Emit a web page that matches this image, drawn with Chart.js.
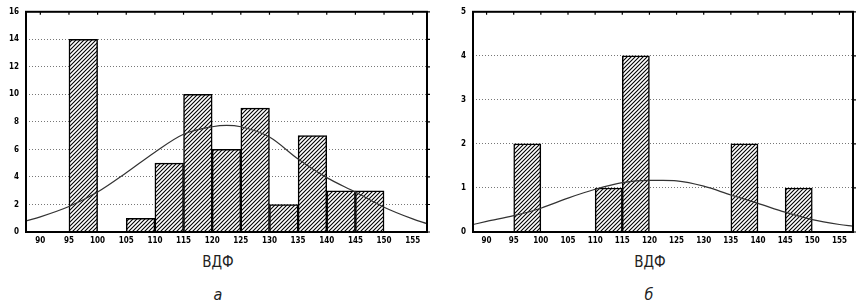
<!DOCTYPE html>
<html>
<head>
<meta charset="utf-8">
<script src="https://cdn.jsdelivr.net/npm/chart.js@4/dist/chart.umd.min.js"></script>
<style>
  body { margin: 0; background: #fff; width: 861px; height: 306px; overflow: hidden; position: relative;
         font-family: 'Liberation Sans Narrow', 'DejaVu Sans Condensed', 'Liberation Sans', sans-serif; }
  .box { position: absolute; top: 0; height: 250px; }
  .lbl { position: absolute; font-size: 15px; transform: translateX(-50%); color: #222; }
  .sub { font-style: italic; font-size: 16px; top: 285px; }
</style>
</head>
<body>
<div class="box" style="left:0;width:440px"><canvas id="chartA"></canvas></div>
<div class="box" style="left:440px;width:421px"><canvas id="chartB"></canvas></div>
<div class="lbl" style="left:218px;top:253px">ВДФ</div>
<div class="lbl" style="left:650px;top:253px">ВДФ</div>
<div class="lbl sub" style="left:218px">а</div>
<div class="lbl sub" style="left:649px">б</div>
<script>
// histogram bins (lower edges, width 5)
const binStarts = [95, 100, 105, 110, 115, 120, 125, 130, 135, 140, 145];
const countsA = [14, 0, 1, 5, 10, 6, 9, 2, 7, 3, 3];
const countsB = [2, 0, 0, 1, 4, 0, 0, 0, 2, 0, 1];

// fitted normal curve
const curveX = [87.5, 90, 95, 100, 105, 110, 115, 120, 122.5, 125, 130, 135, 140, 145, 150, 155, 157.5];
const curveA = [0.8, 1.1, 1.85, 2.9, 4.3, 5.8, 7.1, 7.65, 7.75, 7.65, 6.9, 5.3, 3.95, 2.9, 1.8, 0.95, 0.6];
const curveB = [0.17, 0.24, 0.37, 0.54, 0.77, 0.97, 1.12, 1.17, 1.17, 1.16, 1.04, 0.84, 0.65, 0.45, 0.28, 0.17, 0.13];

const xTicks = [90, 95, 100, 105, 110, 115, 120, 125, 130, 135, 140, 145, 150, 155];
const yTicksA = [0, 2, 4, 6, 8, 10, 12, 14, 16];
const yTicksB = [0, 1, 2, 3, 4, 5];

function hatch() {
  const c = document.createElement('canvas');
  c.width = 4; c.height = 4;
  const g = c.getContext('2d');
  g.fillStyle = '#fff';
  g.fillRect(0, 0, 4, 4);
  g.strokeStyle = '#000';
  g.lineWidth = 1.1;
  g.beginPath();
  g.moveTo(0, 4); g.lineTo(4, 0);
  g.moveTo(-1, 1); g.lineTo(1, -1);
  g.moveTo(3, 5); g.lineTo(5, 3);
  g.stroke();
  return g.createPattern(c, 'repeat');
}

// frame + small tick marks on top and right border
const frame = {
  id: 'frame',
  afterDatasetsDraw(chart) {
    const { ctx, chartArea: a, scales: { x, y } } = chart;
    ctx.save();
    ctx.strokeStyle = '#000';
    ctx.lineWidth = 2;
    ctx.strokeRect(a.left, a.top, a.right - a.left, a.bottom - a.top);
    ctx.lineWidth = 1.2;
    ctx.beginPath();
    x.ticks.forEach(t => {
      const px = x.getPixelForValue(t.value);
      ctx.moveTo(px, a.top); ctx.lineTo(px, a.top + 3);
    });
    y.ticks.forEach(t => {
      const py = y.getPixelForValue(t.value);
      ctx.moveTo(a.right, py); ctx.lineTo(a.right + 3, py);
    });
    ctx.stroke();
    ctx.restore();
  }
};

function makeChart(id, counts, curve, yTicks, yMax, yWidth, padRight) {
  return new Chart(document.getElementById(id), {
    type: 'bar',
    data: {
      datasets: [
        {
          type: 'line',
          data: curveX.map((v, i) => ({ x: v, y: curve[i] })),
          borderColor: '#333',
          borderWidth: 1.2,
          pointRadius: 0,
          tension: 0.4,
          cubicInterpolationMode: 'monotone',
          order: 0
        },
        {
          data: binStarts.map((v, i) => ({ x: v + 2.5, y: counts[i] })),
          backgroundColor: hatch(),
          borderColor: '#000',
          borderWidth: 1.5,
          barPercentage: 1,
          categoryPercentage: 1,
          order: 1
        }
      ]
    },
    options: {
      responsive: true,
      maintainAspectRatio: false,
      animation: false,
      layout: { padding: { top: 8, right: padRight, left: 0, bottom: 0 } },
      plugins: { legend: { display: false }, tooltip: { enabled: false } },
      scales: {
        x: {
          type: 'linear',
          min: 87.5,
          max: 157.5,
          offset: false,
          afterBuildTicks: s => { s.ticks = xTicks.map(v => ({ value: v })); },
          afterFit: s => { s.height = 18; },
          grid: { display: false, drawTicks: false },
          border: { display: false },
          ticks: { color: '#000', padding: 4, maxRotation: 0, autoSkip: false,
                   font: { size: 8, weight: 'bold', family: 'Liberation Sans Narrow, DejaVu Sans Condensed, sans-serif' } }
        },
        y: {
          min: 0,
          max: yMax,
          afterBuildTicks: s => { s.ticks = yTicks.map(v => ({ value: v })); },
          afterFit: s => { s.width = yWidth; },
          grid: { color: '#777', lineWidth: 1, drawTicks: false },
          border: { display: false, dash: [1, 2] },
          ticks: { color: '#000', padding: 7,
                   font: { size: 8, weight: 'bold', family: 'Liberation Sans Narrow, DejaVu Sans Condensed, sans-serif' } }
        }
      }
    },
    plugins: [frame]
  });
}

makeChart('chartA', countsA, curveA, yTicksA, 16, 26, 13);
makeChart('chartB', countsB, curveB, yTicksB, 5, 33, 8);
</script>
</body>
</html>
